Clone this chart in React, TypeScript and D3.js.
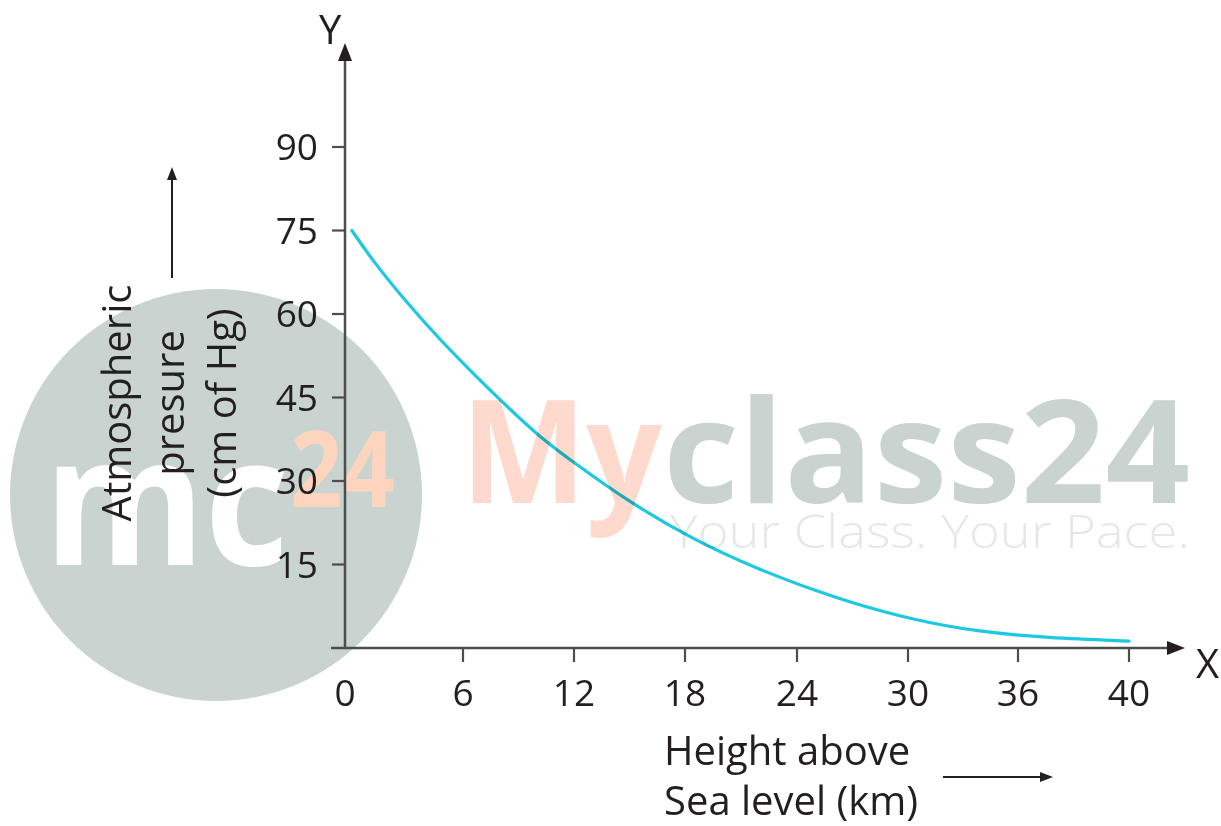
import React from "react";
import * as d3 from "d3";

// ---- data ----
const xTicks = [0, 6, 12, 18, 24, 30, 36, 40];
const yTicks = [15, 30, 45, 60, 75, 90];
const heightKm = [0.35, 1.4, 3.15, 4.85, 6.55, 8.4, 10.15, 11.95, 14.85, 18.45, 22.0, 25.25, 26.7, 30.3, 33.9, 37.05, 40];
const pressure = [75, 69.6, 62, 55.3, 49.3, 43.3, 37.9, 33.4, 26.5, 19.4, 14.0, 10.0, 8.4, 5.0, 2.9, 1.8, 1.25];
const yLabelLines = ["Atmospheric", "presure", "(cm of Hg)"];
const xLabelLines = ["Height above", "Sea level (km)"];

const W = 1221;
const H = 826;
const FONT = "'Open Sans', 'Noto Sans', sans-serif";
const INK = "#231f20";
const AXIS = "#4d4d4d";

export default function App() {
  // piecewise x scale: tick positions are evenly placed in the drawing
  const x = d3.scaleLinear().domain(xTicks).range([345, 463, 574, 685, 797, 908, 1018, 1129]);
  const y = d3.scaleLinear().domain([0, 90]).range([648, 147]);

  const pts: [number, number][] = heightKm.map((h, i) => [h, pressure[i]]);
  const line = d3
    .line<[number, number]>()
    .x((d) => x(d[0]))
    .y((d) => y(d[1]))
    .curve(d3.curveBasis);

  const x0 = x(0);
  const y0 = y(0);
  const yTop = 43;
  const xEnd = 1185;

  return (
    <svg
      width={W}
      height={H}
      viewBox={`0 0 ${W} ${H}`}
      style={{ position: "absolute", left: 0, top: 0, background: "#fff" }}
    >
      {/* watermark */}
      <g>
        <circle cx={216} cy={495} r={206} fill="#c9d3d0" />
        <text
          x={44}
          y={565}
          fontFamily={FONT}
          fontWeight={700}
          fontSize={180}
          fill="#ffffff"
          textLength={245}
          lengthAdjust="spacingAndGlyphs"
        >
          mc
        </text>
        <text
          x={290}
          y={507}
          fontFamily={FONT}
          fontWeight={700}
          fontSize={105}
          fill="#fdd5bf"
          textLength={105}
          lengthAdjust="spacingAndGlyphs"
        >
          24
        </text>
        <text
          x={461}
          y={503}
          fontFamily={FONT}
          fontWeight={700}
          fontSize={144}
          fill="#fddacd"
          textLength={201}
          lengthAdjust="spacingAndGlyphs"
        >
          My
        </text>
        <text
          x={663}
          y={503}
          fontFamily={FONT}
          fontWeight={700}
          fontSize={144}
          fill="#c9d3d0"
          textLength={527}
          lengthAdjust="spacingAndGlyphs"
        >
          class24
        </text>
        <text
          x={670}
          y={548}
          fontFamily={FONT}
          fontWeight={300}
          fontSize={46}
          fill="#e6e8e8"
          textLength={520}
          lengthAdjust="spacingAndGlyphs"
        >
          Your Class. Your Pace.
        </text>
      </g>

      {/* axes */}
      <line x1={x0} y1={y0} x2={x0} y2={yTop + 14} stroke={AXIS} strokeWidth={2.5} />
      <path d={`M${x0},${yTop} L${x0 - 7},${yTop + 18} L${x0 + 7},${yTop + 18} Z`} fill={INK} />
      <line x1={x0 - 14} y1={y0} x2={xEnd - 14} y2={y0} stroke={AXIS} strokeWidth={2.5} />
      <path d={`M${xEnd},${y0} L${xEnd - 18},${y0 - 7} L${xEnd - 18},${y0 + 7} Z`} fill={INK} />

      {/* y ticks */}
      {yTicks.map((t) => (
        <g key={`y${t}`}>
          <line x1={x0 - 13} x2={x0} y1={y(t)} y2={y(t)} stroke={AXIS} strokeWidth={2.2} />
          <text
            x={318}
            y={y(t) + 13}
            textAnchor="end"
            fontFamily={FONT}
            fontSize={37}
            fill={INK}
          >
            {t}
          </text>
        </g>
      ))}

      {/* x ticks */}
      {xTicks.map((t) => (
        <g key={`x${t}`}>
          {t !== 0 && (
            <line x1={x(t)} x2={x(t)} y1={y0} y2={y0 + 14} stroke={AXIS} strokeWidth={2.2} />
          )}
          <text
            x={x(t)}
            y={706}
            textAnchor="middle"
            fontFamily={FONT}
            fontSize={37}
            fill={INK}
          >
            {t}
          </text>
        </g>
      ))}

      {/* curve */}
      <path
        d={line(pts) || ""}
        fill="none"
        stroke="#1dc8e2"
        strokeWidth={3.2}
        strokeLinecap="round"
        style={{ mixBlendMode: "multiply" }}
      />

      {/* axis names */}
      <text x={319} y={44} fontFamily={FONT} fontSize={40} fill={INK}>
        Y
      </text>
      <text x={1196} y={678} fontFamily={FONT} fontSize={40} fill={INK}>
        X
      </text>

      {/* y label */}
      {yLabelLines.map((s, i) => (
        <text
          key={s}
          transform={`translate(${131 + i * 52.5},403) rotate(-90)`}
          textAnchor="middle"
          fontFamily={FONT}
          fontSize={40}
          fill={INK}
        >
          {s}
        </text>
      ))}
      <line x1={172} y1={278} x2={172} y2={176} stroke={INK} strokeWidth={2} />
      <path d="M172,167 L167,180 L177,180 Z" fill={INK} />

      {/* x label */}
      {xLabelLines.map((s, i) => (
        <text key={s} x={664} y={765 + i * 50} fontFamily={FONT} fontSize={40} fill={INK}>
          {s}
        </text>
      ))}
      <line x1={943} y1={777} x2={1043} y2={777} stroke={INK} strokeWidth={2} />
      <path d="M1053,777 L1040,772 L1040,782 Z" fill={INK} />
    </svg>
  );
}
